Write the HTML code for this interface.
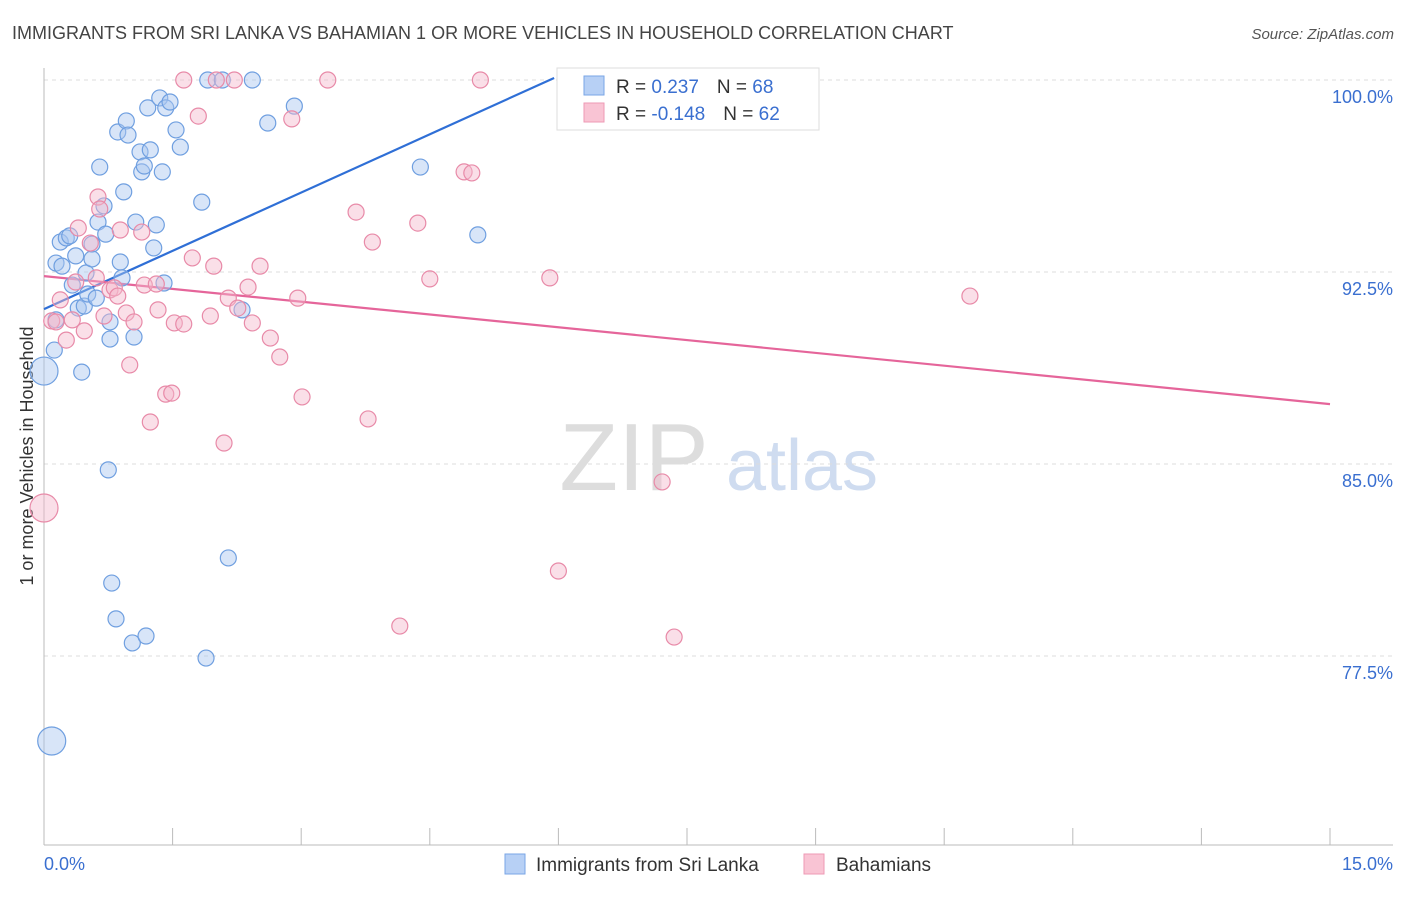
<!DOCTYPE html>
<html><head><meta charset="utf-8"><style>
body{margin:0;background:#fff;font-family:"Liberation Sans",sans-serif;}
svg text{font-family:"Liberation Sans",sans-serif;}
</style></head><body>
<svg id="chart" width="1406" height="892" xmlns="http://www.w3.org/2000/svg">
<text x="12" y="39" font-size="18" fill="#444">IMMIGRANTS FROM SRI LANKA VS BAHAMIAN 1 OR MORE VEHICLES IN HOUSEHOLD CORRELATION CHART</text>
<text x="1394" y="39" font-size="15" fill="#555" text-anchor="end" font-style="italic">Source: ZipAtlas.com</text>
<text transform="translate(33,456) rotate(-90)" font-size="18" fill="#333" text-anchor="middle">1 or more Vehicles in Household</text>
<g>
<text x="634" y="490" font-size="96" fill="#ddd" text-anchor="middle" font-family="Liberation Serif">ZIP</text>
<text x="802" y="490" font-size="72" fill="#cfdcf0" text-anchor="middle">atlas</text>
</g>
<g id="grid"></g>
<g id="axes"></g>
<g id="lines"></g>
<g id="points"></g>
<g>
<rect x="557" y="68" width="262" height="62" fill="#fff" stroke="#ddd"/>
<rect x="584" y="76" width="20" height="19" fill="#b7d0f5" stroke="#7aa6e6"/>
<rect x="584" y="103" width="20" height="19" fill="#f9c4d4" stroke="#ee9ab5"/>
<text x="616" y="93" font-size="19" fill="#333">R = <tspan fill="#3a6fd0"> 0.237</tspan><tspan dx="18">N = </tspan><tspan fill="#3a6fd0">68</tspan></text>
<text x="616" y="120" font-size="19" fill="#333">R = <tspan fill="#3a6fd0">-0.148</tspan><tspan dx="18">N = </tspan><tspan fill="#3a6fd0">62</tspan></text>
</g>
<g>
<rect x="505" y="854" width="20" height="20" fill="#b7d0f5" stroke="#7aa6e6"/>
<text x="536" y="871" font-size="19" fill="#333">Immigrants from Sri Lanka</text>
<rect x="804" y="854" width="20" height="20" fill="#f9c4d4" stroke="#ee9ab5"/>
<text x="836" y="871" font-size="19" fill="#333">Bahamians</text>
</g>
</svg>
<script>
const yTicks=[100,92.5,85,77.5];
const yTickLabels=["100.0%","92.5%","85.0%","77.5%"];
const xTickLabels=["0.0%","15.0%"];
const blueX=[0,0.09,0.12,0.14,0.14,0.19,0.21,0.26,0.30,0.33,0.37,0.40,0.44,0.47,0.49,0.51,0.56,0.56,0.61,0.63,0.65,0.70,0.72,0.75,0.77,0.77,0.79,0.84,0.86,0.89,0.91,0.93,0.96,0.98,1.03,1.05,1.07,1.12,1.14,1.17,1.19,1.21,1.24,1.28,1.31,1.35,1.38,1.40,1.42,1.47,1.54,1.59,1.84,1.89,1.91,2.08,2.15,2.31,2.43,2.61,2.92,4.39,5.06];
const blueY=[88.63,74.18,89.45,90.63,92.85,93.67,92.73,93.83,93.91,91.99,93.13,91.09,88.59,91.17,92.46,91.64,93.59,93.01,91.48,94.45,96.60,95.08,93.98,84.77,90.55,89.88,80.35,78.95,97.97,92.89,92.27,95.63,98.40,97.85,78.01,89.96,94.45,97.19,96.41,96.64,78.28,98.91,97.27,93.44,94.34,99.30,96.41,92.07,98.91,99.14,98.05,97.38,95.23,77.42,100,100,81.33,91.02,100,98.32,98.98,96.60,93.95];
const blueBig=[0,1];
const pinkX=[0,0.09,0.14,0.19,0.26,0.33,0.37,0.40,0.47,0.54,0.61,0.63,0.65,0.70,0.77,0.82,0.86,0.89,0.96,1.00,1.05,1.14,1.17,1.24,1.31,1.33,1.42,1.49,1.52,1.63,1.63,1.73,1.80,1.94,1.98,2.01,2.10,2.15,2.22,2.26,2.38,2.43,2.52,2.64,2.75,2.89,2.96,3.01,3.31,3.64,3.78,3.83,4.15,4.36,4.50,4.90,4.99,5.09,5.90,6.00,7.21,7.35,10.80];
const pinkY=[83.28,90.59,90.55,91.41,89.84,90.63,92.11,94.22,90.20,93.63,92.27,95.43,94.96,90.78,91.80,91.88,91.56,94.14,90.90,88.87,90.55,94.06,91.99,86.64,92.03,91.02,87.73,87.77,90.51,100,90.47,93.05,98.59,90.78,92.73,100,85.82,91.48,100,91.09,91.91,90.51,92.73,89.92,89.18,98.48,91.48,87.62,100,94.84,86.76,93.67,78.67,94.41,92.23,96.41,96.37,100,92.27,80.82,84.30,78.24,91.56];
const pinkBig=[0];
const blueTrend=[0,91.05,5.95,100.08];
const pinkTrend=[0,92.34,15,87.34];
const NS="http://www.w3.org/2000/svg";
const X=v=>44+v/15*1286;
const Y=v=>80+(100-v)*25.6;
function mk(tag,attrs,parent){const e=document.createElementNS(NS,tag);for(const k in attrs)e.setAttribute(k,attrs[k]);document.getElementById(parent).appendChild(e);return e;}
yTicks.forEach((t,i)=>{
 const l=mk('line',{x1:44,x2:1393,y1:Y(t),y2:Y(t),stroke:'#ddd','stroke-dasharray':'4,4'},'grid');
 
 
 const tx=mk('text',{x:1393,y:Y(t)+23,'font-size':18,fill:'#3a6fd0','text-anchor':'end'},'grid');
 tx.textContent=yTickLabels[i];
 
 
});
const ax=mk('line',{x1:44,x2:44,y1:68,y2:845,stroke:'#bbb'},'axes');


const bx=mk('line',{x1:44,x2:1393,y1:845,y2:845,stroke:'#bbb'},'axes');


for(let i=0;i<=10;i++){
 const t=mk('line',{x1:X(i*1.5),x2:X(i*1.5),y1:828,y2:845,stroke:'#bbb'},'axes');
 
 
}
[[0,'start',44],[15,'end',1393]].forEach((d,i)=>{
 const t=mk('text',{x:d[2],y:870,'font-size':18,fill:'#3a6fd0','text-anchor':d[1]},'axes');
 t.textContent=xTickLabels[i];
 
 
});
function pts(xs,ys,big,fill,stroke,name){
 xs.forEach((x,i)=>{
  const c=mk('circle',{cx:X(x),cy:Y(ys[i]),r:big.includes(i)?14:8,fill:fill,'fill-opacity':0.45,stroke:stroke,'stroke-width':1.2},'points');
  
  
 });
}
pts(blueX,blueY,blueBig,'#a9c6ef','#6f9fe0','sri-lanka-point');
pts(pinkX,pinkY,pinkBig,'#f5b8cc','#e88aa8','bahamian-point');
const bl=mk('line',{x1:X(blueTrend[0]),y1:Y(blueTrend[1]),x2:X(blueTrend[2]),y2:Y(blueTrend[3]),stroke:'#2f6fd6','stroke-width':2.2},'lines');


const pl=mk('line',{x1:X(pinkTrend[0]),y1:Y(pinkTrend[1]),x2:X(pinkTrend[2]),y2:Y(pinkTrend[3]),stroke:'#e5659a','stroke-width':2.2},'lines');


</script>
</body></html>
